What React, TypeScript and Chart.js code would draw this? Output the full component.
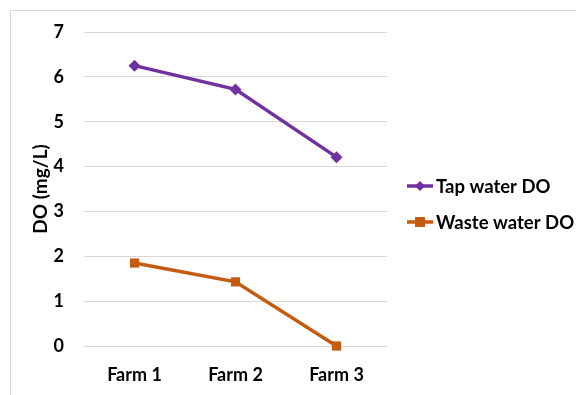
import React, { useEffect, useRef } from "react";
import { Chart, registerables } from "chart.js";

Chart.register(...registerables);

const categories = ["Farm 1", "Farm 2", "Farm 3"];
const tapWater = [6.25, 5.72, 4.21];
const wasteWater = [1.85, 1.43, 0];
const seriesLabels = ["Tap water DO", "Waste water DO"];
const yTitle = "DO (mg/L)";

const PURPLE = "#7030A0";
const ORANGE = "#C55A11";
const FONT = "Lato, 'Open Sans', sans-serif";

const legendPlugin = {
  id: "sideLegend",
  afterDraw(chart: any) {
    const ctx = chart.ctx;
    const area = chart.chartArea;
    const x0 = area.right + 20;
    const ys = [175, 211];
    ctx.save();
    chart.data.datasets.forEach((ds: any, i: number) => {
      const y = ys[i];
      ctx.strokeStyle = ds.borderColor;
      ctx.lineWidth = 3.5;
      ctx.beginPath();
      ctx.moveTo(x0, y);
      ctx.lineTo(x0 + 26, y);
      ctx.stroke();
      ctx.fillStyle = ds.borderColor;
      const cx = x0 + 13;
      if (ds.pointStyle === "rectRot") {
        ctx.beginPath();
        ctx.moveTo(cx, y - 5);
        ctx.lineTo(cx + 5, y);
        ctx.lineTo(cx, y + 5);
        ctx.lineTo(cx - 5, y);
        ctx.closePath();
        ctx.fill();
      } else {
        ctx.fillRect(cx - 5, y - 5, 10, 10);
      }
      ctx.fillStyle = "#000000";
      ctx.font = `bold 18.5px ${FONT}`;
      ctx.textBaseline = "middle";
      ctx.textAlign = "left";
      ctx.fillText(ds.label, x0 + 29, y + 1);
    });
    ctx.restore();
  },
};

export default function App() {
  const ref = useRef<HTMLCanvasElement | null>(null);
  useEffect(() => {
    if (!ref.current) return;
    const chart = new Chart(ref.current, {
      type: "line",
      data: {
        labels: categories,
        datasets: [
          {
            label: seriesLabels[0],
            data: tapWater,
            borderColor: PURPLE,
            backgroundColor: PURPLE,
            borderWidth: 3.5,
            pointStyle: "rectRot",
            pointRadius: 6,
            pointBorderWidth: 0,
            clip: false,
          },
          {
            label: seriesLabels[1],
            data: wasteWater,
            borderColor: ORANGE,
            backgroundColor: ORANGE,
            borderWidth: 3.5,
            pointStyle: "rect",
            pointRadius: 6.5,
            pointBorderWidth: 0,
            clip: false,
          },
        ],
      },
      options: {
        animation: false,
        responsive: false,
        maintainAspectRatio: false,
        layout: { padding: { top: 21, right: 189, bottom: 0, left: 0 } },
        plugins: { legend: { display: false }, tooltip: { enabled: false } },
        scales: {
          x: {
            offset: true,
            grid: { display: false, drawTicks: false },
            border: { display: false },
            ticks: {
              color: "#000000",
              padding: 18,
              font: { family: FONT, size: 18, weight: "bold" },
            },
            afterFit(scale: any) {
              scale.height = 49;
            },
          },
          y: {
            min: 0,
            max: 7,
            grid: { color: "#d9d9d9", lineWidth: 1, drawTicks: false },
            border: { display: false },
            ticks: {
              stepSize: 1,
              color: "#000000",
              padding: 20,
              font: { family: FONT, size: 18, weight: "bold" },
            },
            title: {
              display: true,
              text: yTitle,
              color: "#000000",
              font: { family: FONT, size: 19, weight: "bold" },
              padding: { top: 18, bottom: 0 },
            },
            afterFit(scale: any) {
              scale.width = 73;
              scale.paddingTop = 0;
              scale.paddingBottom = 0;
            },
          },
        },
      },
      plugins: [legendPlugin],
    });
    return () => chart.destroy();
  }, []);
  return (
    <div style={{ position: "fixed", left: 0, top: 0, width: 576, height: 395, background: "#fff" }}>
      <div
        style={{
          position: "absolute",
          left: 10,
          top: 10,
          width: 576,
          height: 400,
          borderLeft: "1px solid #d9d9d9",
          borderTop: "1px solid #d9d9d9",
        }}
      >
        <canvas ref={ref} width={565} height={384} style={{ display: "block" }} />
      </div>
    </div>
  );
}
